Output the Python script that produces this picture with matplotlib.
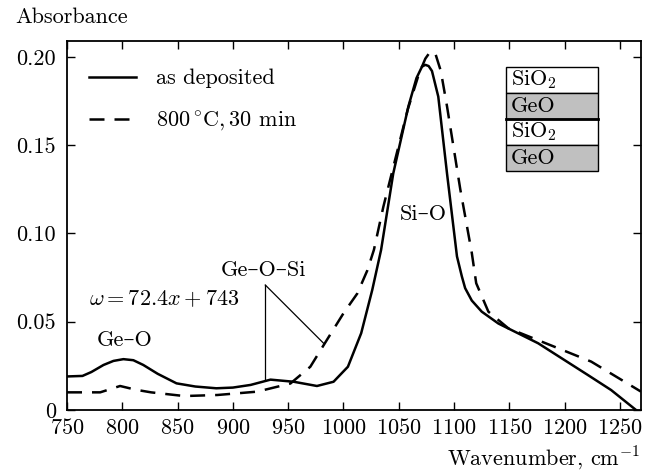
import numpy as np
import matplotlib
matplotlib.use("Agg")
import matplotlib.pyplot as plt
from matplotlib.patches import Rectangle

plt.rcParams['font.family'] = ['cmr10', 'DejaVu Serif']
plt.rcParams['mathtext.fontset'] = 'cm'
plt.rcParams['axes.formatter.use_mathtext'] = True
plt.rcParams['font.size'] = 16

# as deposited (solid)
wn_dep = [750, 764, 772, 783, 792, 801, 810, 819, 832, 849, 866, 885, 900, 916, 934,
          955, 976, 991, 1004, 1016, 1026, 1034, 1045, 1058.7, 1066, 1071, 1074, 1077,
          1080, 1085.7, 1093.6, 1102.6, 1107, 1110, 1116, 1125, 1140, 1176, 1221,
          1242, 1264.5]
ab_dep = [0.019, 0.0193, 0.0215, 0.0255, 0.0278, 0.0288, 0.0282, 0.0255, 0.0205,
          0.0151, 0.0133, 0.0123, 0.0127, 0.0142, 0.0172, 0.016, 0.0136, 0.016,
          0.0245, 0.0435, 0.068, 0.0907, 0.134, 0.172, 0.188, 0.1945, 0.1955, 0.1948,
          0.192, 0.1775, 0.134, 0.087, 0.0757, 0.069, 0.062, 0.0557, 0.049, 0.0378,
          0.0198, 0.0113, 0.0]

# 800 C, 30 min (dashed)
wn_ann = [750, 780, 798, 812, 826, 856, 886, 922, 952, 970, 985, 1000, 1012.5, 1021.5,
          1027.5, 1036, 1046, 1058, 1068, 1074, 1078.5, 1083, 1088, 1093.6, 1105.6,
          1116, 1120, 1131, 1149, 1194, 1224, 1269]
ab_ann = [0.010, 0.010, 0.0136, 0.0115, 0.010, 0.0079, 0.0085, 0.0104, 0.015, 0.0245,
          0.0397, 0.0548, 0.066, 0.079, 0.0907, 0.115, 0.14, 0.17, 0.19, 0.199, 0.203,
          0.202, 0.192, 0.172, 0.125, 0.089, 0.0718, 0.0557, 0.0463, 0.035, 0.0274,
          0.0104]

xticks = [750, 800, 850, 900, 950, 1000, 1050, 1100, 1150, 1200, 1250]
yticks = [0, 0.05, 0.10, 0.15, 0.20]
ylabels = ['0', '0.05', '0.10', '0.15', '0.20']

layers = ['SiO$_2$', 'GeO', 'SiO$_2$', 'GeO']
layer_colors = ['white', '#c0c0c0', 'white', '#c0c0c0']

fig = plt.figure(figsize=(6.53, 4.72), dpi=100)
ax = fig.add_axes([67 / 653, 62 / 472, 574 / 653, 369 / 472])

ax.plot(wn_dep, ab_dep, 'k-', lw=1.8, label='as deposited')
ax.plot(wn_ann, ab_ann, 'k--', lw=1.8, dashes=(6, 4), label=r'$800\,^{\circ}\mathrm{C}, 30$ min')

ax.set_xlim(750, 1269)
ax.set_ylim(0, 0.209)
ax.set_xticks(xticks)
ax.set_yticks(yticks)
ax.set_yticklabels(ylabels)
ax.tick_params(direction='in', top=True, right=True, length=6, width=1)
ax.tick_params(axis='x', pad=6)
ax.tick_params(axis='y', pad=8)
for s in ax.spines.values():
    s.set_linewidth(1.3)
    s.set_zorder(5)

leg = ax.legend(loc='upper left', frameon=False, handlelength=2.1, handletextpad=0.9,
                labelspacing=0.95, borderaxespad=0.6, bbox_to_anchor=(0.0, 0.985))

# annotations
ax.plot([929.3, 929.3], [0.017, 0.0708], 'k-', lw=0.9)
ax.plot([929.3, 982], [0.0708, 0.0378], 'k-', lw=0.9)
ax.text(928, 0.0793, 'Ge–O–Si', ha='center', va='center')
ax.text(838, 0.063, r'$\omega = 72.4x + 743$', ha='center', va='center')
ax.text(802, 0.0397, 'Ge–O', ha='center', va='center')
ax.text(1072, 0.111, 'Si–O', ha='center', va='center')

# layer stack
x0, w, top, h = 0.765, 0.16, 0.9295, 0.0705
for i, (name, col) in enumerate(zip(layers, layer_colors)):
    yb = top - (i + 1) * h
    ax.add_patch(Rectangle((x0, yb), w, h, transform=ax.transAxes,
                           facecolor=col, edgecolor='black', lw=1.0))
    ax.text(x0 + 0.008, yb + h / 2, name, transform=ax.transAxes,
            ha='left', va='center')
ax.plot([x0, x0 + w], [top - 2 * h] * 2, transform=ax.transAxes, color='black', lw=2)

fig.text(15 / 653, 1 - 17 / 472, 'Absorbance', ha='left', va='center')
fig.text(640 / 653, 1 - 458 / 472, r'Wavenumber, cm$^{-1}$', ha='right', va='center')

fig.savefig('out.png', dpi=100)
